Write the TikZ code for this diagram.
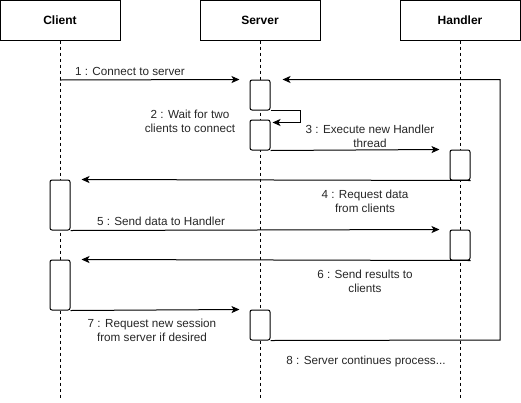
\documentclass[tikz,border=0pt]{standalone}
\usepackage{fontspec}
\setmainfont{Liberation Sans}
\usetikzlibrary{arrows.meta}
\begin{document}
\begin{tikzpicture}[x=1pt,y=-1pt,
  header/.style={draw, line width=1pt, minimum width=120pt, minimum height=40pt, inner sep=0pt, font=\fontsize{12}{14}\selectfont\bfseries},
  act/.style={draw, line width=1pt, fill=white, rounded corners=2pt, minimum width=20pt, minimum height=30pt, inner sep=0pt},
  life/.style={line width=0.8pt, dash pattern=on 3pt off 3pt},
  msg/.style={line width=1pt, -{Stealth[length=8pt,width=7pt,inset=2pt]}},
  lbl/.style={font=\fontsize{11.7}{13.8}\selectfont, align=center, inner sep=0pt, text=black!85}]
\useasboundingbox (0,0) rectangle (521,402);
% headers
\node[header] (client) at (60,20) {Client};
\node[header] (server) at (260,20) {Server};
\node[header] (handler) at (460,20) {Handler};
% lifeline ends
\coordinate (cend) at (60,400);
\coordinate (send) at (260,400);
\coordinate (hend) at (460,400);
\draw[life] (client.south) -- (cend);
\draw[life] (server.south) -- (send);
\draw[life] (handler.south) -- (hend);
% activations
\node[act] (s1) at (260,95) {};
\node[act] (s2) at (260,135) {};
\node[act] (h1) at (460,165) {};
\node[act, minimum height=50pt] (c1) at (60,205) {};
\node[act] (h2) at (460,245) {};
\node[act, minimum height=50pt] (c2) at (60,285) {};
\node[act] (s3) at (260,325) {};
% messages
\coordinate (m1s) at (60,80);
\draw[msg] (m1s) -- ([xshift=-10pt]s1.north west);
\draw[msg] (s1.south east) -- ++(30,0) |- ([xshift=2pt,yshift=-3pt]s2.north east);
\draw[msg] (s2.south east) -- ([xshift=-10pt]h1.north west);
\draw[msg] (h1.south east) -- ([xshift=11pt]c1.north east);
\draw[msg] (c1.south east) -- ([xshift=-10pt]h2.north west);
\draw[msg] (h2.south east) -- ([xshift=11pt]c2.north east);
\draw[msg] (c2.south east) -- ([xshift=-10pt]s3.north west);
\coordinate (turn) at (500,340);
\draw[msg] (s3.south east) -- (turn) |- ([xshift=12pt]s1.north east);
% labels
\node[lbl] (l1) at (130,71) {1 : Connect to server};
\node[lbl] (l2) at (190,121) {2 : Wait for two\\clients to connect};
\node[lbl] (l3) at (370,136) {3 : Execute new Handler\\thread};
\node[lbl] (l4) at (365,201) {4 : Request data\\from clients};
\node[lbl] (l5) at (161,221) {5 : Send data to Handler};
\node[lbl] (l6) at (365,281) {6 : Send results to\\clients};
\node[lbl] (l7) at (152,330) {7 : Request new session\\from server if desired};
\node[lbl] (l8) at (366,361) {8 : Server continues process...};
\end{tikzpicture}
\end{document}
